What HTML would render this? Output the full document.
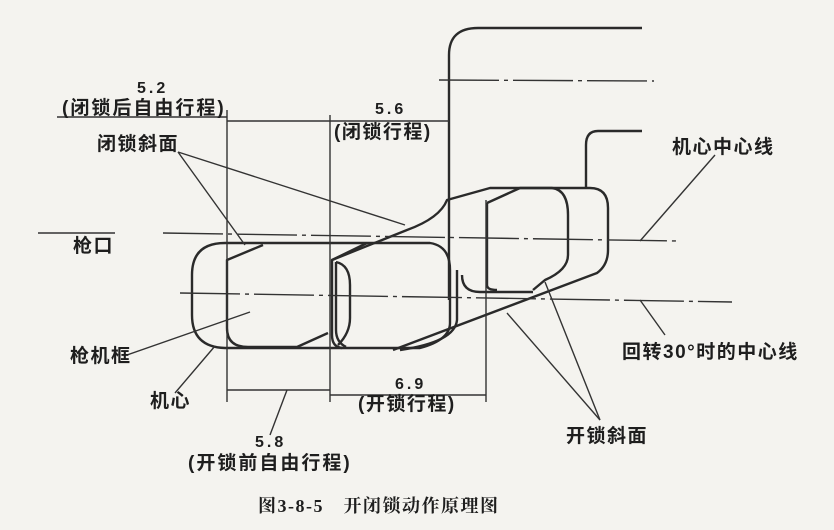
<!DOCTYPE html>
<html><head><meta charset="utf-8"><style>
html,body{margin:0;padding:0;background:#f4f3ef;}
svg{display:block}
text{font-family:"Liberation Sans","Noto Sans CJK SC",sans-serif;fill:#1e1e1e;font-weight:bold;}
</style></head><body>
<svg width="834" height="530" viewBox="0 0 834 530" xmlns="http://www.w3.org/2000/svg">
<rect width="834" height="530" fill="#f4f3ef"/>
<g fill="none" stroke="#2a2a2a" stroke-width="2.4" stroke-linejoin="round">
<path d="M449,300 V55 Q449,28 478,28 H642"/>
<path d="M642,131 H598 Q586,131 586,145 V188"/>
<path d="M225,243 H430 Q450,246 450,270 V323 Q450,340 420,348 H225 Q192,347 192,315 V275 Q192,243 225,243 Z"/>
<path d="M263,245 L227,260 V328 Q227,347 248,347 H297 L328,333"/>
<path d="M367,243 L332,260 V335 Q332,347 342,348"/>
<path d="M336,262 V330 Q336,342 346,347"/>
<path d="M336,262 Q350,265 350,285 V318 Q350,333 338,345"/>
<path d="M457,270 V320 Q455,342 400,350"/>
<path d="M462,275 Q462,292 480,292 H533"/>
<path d="M393,350 L597,273 Q608,265 608,250 V208 Q608,188 590,188 H520 L487,203"/>
<path d="M487,203 V285 Q487,290 497,290"/>
<path d="M552,188 Q568,190 568,215 V255 Q568,270 545,280 L533,290"/>
<path d="M332,260 L407,230 Q440,218 447,200 L490,188 H552"/>
</g>
<g fill="none" stroke="#333" stroke-width="1.4">
<line x1="227" y1="110" x2="227" y2="402"/>
<line x1="330" y1="115" x2="330" y2="402"/>
<line x1="486" y1="200" x2="486" y2="402"/>
<line x1="57" y1="117" x2="227" y2="117"/>
<line x1="227" y1="121" x2="449" y2="121"/>
<line x1="227" y1="390" x2="330" y2="390"/>
<line x1="330" y1="395" x2="486" y2="395"/>
<line x1="38" y1="233" x2="115" y2="233"/>
<line x1="163" y1="233" x2="677" y2="241" stroke-dasharray="60,5,4,5"/>
<line x1="180" y1="293" x2="732" y2="302" stroke-dasharray="60,5,4,5"/>
<line x1="439" y1="80" x2="654" y2="81" stroke-dasharray="60,5,4,5"/>
<line x1="178" y1="152" x2="245" y2="245"/>
<line x1="178" y1="152" x2="405" y2="225"/>
<line x1="127" y1="355" x2="250" y2="312"/>
<line x1="175" y1="393" x2="215" y2="346"/>
<line x1="270" y1="435" x2="287" y2="390"/>
<line x1="715" y1="155" x2="640" y2="241"/>
<line x1="665" y1="335" x2="640" y2="300"/>
<line x1="600" y1="420" x2="507" y2="313"/>
<line x1="600" y1="420" x2="545" y2="282"/>
</g>
<g font-size="19" letter-spacing="1.5">
<text x="137" y="93" font-size="16" letter-spacing="3">5.2</text>
<text x="62" y="114" letter-spacing="2">(闭锁后自由行程)</text>
<text x="375" y="114" font-size="16" letter-spacing="3">5.6</text>
<text x="334" y="138">(闭锁行程)</text>
<text x="97" y="150">闭锁斜面</text>
<text x="73" y="252">枪口</text>
<text x="70" y="362">枪机框</text>
<text x="150" y="407">机心</text>
<text x="395" y="389" font-size="16" letter-spacing="3">6.9</text>
<text x="358" y="410">(开锁行程)</text>
<text x="255" y="447" font-size="16" letter-spacing="3">5.8</text>
<text x="188" y="469" letter-spacing="2">(开锁前自由行程)</text>
<text x="672" y="153">机心中心线</text>
<text x="622" y="358">回转30°时的中心线</text>
<text x="566" y="442">开锁斜面</text>
<text x="258" y="512" font-size="18" font-weight="normal" letter-spacing="1.5" style="font-family:'Liberation Serif','Noto Serif CJK SC',serif">图3-8-5　开闭锁动作原理图</text>
</g>
</svg>
</body></html>
